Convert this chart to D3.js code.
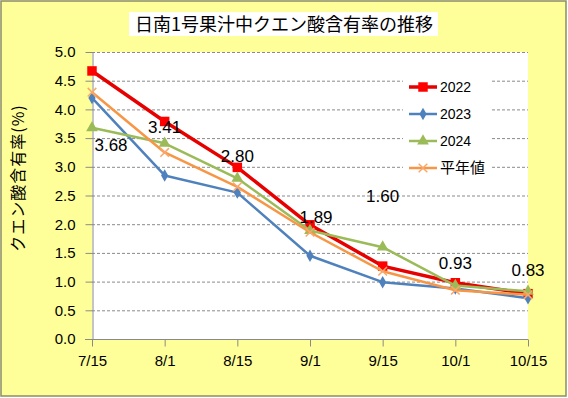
<!DOCTYPE html>
<html>
<head>
<meta charset="utf-8">
<script src="https://cdn.jsdelivr.net/npm/d3@7"></script>
<style>
  html, body { margin: 0; padding: 0; background: #fff; }
  svg { display: block; }
</style>
</head>
<body>
<svg id="chart" width="568" height="398"></svg>
<script>
// data
var dates = ["7/15", "8/1", "8/15", "9/1", "9/15", "10/1", "10/15"];
var yTicks = [0, 0.5, 1, 1.5, 2, 2.5, 3, 3.5, 4, 4.5, 5];
var seriesNames = ["2022", "2023", "2024", "平年値"];
var v2022 = [4.67, 3.79, 2.99, 1.99, 1.27, 0.98, 0.79];
var v2023 = [4.20, 2.85, 2.55, 1.45, 0.99, 0.88, 0.71];
var v2024 = [3.68, 3.41, 2.80, 1.89, 1.60, 0.93, 0.83];
var vNormal = [4.30, 3.25, 2.65, 1.86, 1.18, 0.85, 0.77];

var svg = d3.select("#chart");
var W = 568, H = 398;
// plot area edges (note: "top" is a reserved window global, so use pl/pr/pt/pb)
var pl = 92, pr = 528, pt = 52, pb = 339;
var numFont = "'Liberation Sans', Arial, sans-serif";
var jpFont = "'Noto Sans CJK JP', sans-serif";

// background + border
svg.append("rect").attr("x", 1).attr("y", 1).attr("width", W - 3).attr("height", H - 3)
    .attr("fill", "#ffff99").attr("stroke", "#8c8c64").attr("stroke-width", 1.5);

var x = d3.scalePoint().domain(dates).range([pl, pr]).padding(0);
var y = d3.scaleLinear().domain([0, 5]).range([pb, pt]);

// plot area
svg.append("rect").attr("x", pl).attr("y", pt)
    .attr("width", pr - pl).attr("height", pb - pt).attr("fill", "#fff");

// gridlines
svg.append("g").selectAll("line")
    .data(yTicks.filter(function (d) { return d > 0; }))
    .join("line")
    .attr("x1", pl).attr("x2", pr)
    .attr("y1", function (d) { return y(d) + 0.5; })
    .attr("y2", function (d) { return y(d) + 0.5; })
    .attr("stroke", "#8a8a8a").attr("stroke-width", 1)
    .attr("stroke-dasharray", "3,2");

// y axis
var yAxis = svg.append("g").attr("transform", "translate(" + (pl + 0.5) + ",0)")
    .call(d3.axisLeft(y).tickValues(yTicks).tickFormat(d3.format(".1f"))
        .tickSize(7).tickSizeOuter(0).tickPadding(10));
// x axis
var xAxis = svg.append("g").attr("transform", "translate(0," + (pb + 0.5) + ")")
    .call(d3.axisBottom(x).tickSize(7).tickSizeOuter(0).tickPadding(9));
[yAxis, xAxis].forEach(function (ax) {
    ax.select(".domain").attr("stroke", "#8a8a8a");
    ax.selectAll(".tick line").attr("stroke", "#8a8a8a");
    ax.selectAll("text").attr("font-family", numFont).attr("font-size", 15).attr("fill", "#000");
});
xAxis.select(".domain").attr("d", "M" + (pl - 7) + ",0H" + pr);

// series
var series = [
    { name: seriesNames[0], values: v2022, color: "#e60000", mcolor: "#ff0000", width: 3.5, sym: d3.symbolSquare, size: 90, stroke: false },
    { name: seriesNames[1], values: v2023, color: "#4f81bd", mcolor: "#4f81bd", width: 2.5, sym: d3.symbolDiamond, size: 45, stroke: false },
    { name: seriesNames[2], values: v2024, color: "#9bbb59", mcolor: "#9bbb59", width: 2.5, sym: d3.symbolTriangle, size: 60, stroke: false },
    { name: seriesNames[3], values: vNormal, color: "#f79646", mcolor: "#f8a86a", width: 2.5, sym: d3.symbolTimes, size: 50, stroke: true }
];

var line = d3.line()
    .x(function (d, i) { return x(dates[i]); })
    .y(function (d) { return y(d); });

function drawMarker(g, s, cx, cy) {
    var p = g.append("path")
        .attr("d", d3.symbol().type(s.sym).size(s.size)())
        .attr("transform", "translate(" + cx + "," + cy + ")");
    if (s.stroke) p.attr("fill", "none").attr("stroke", s.mcolor).attr("stroke-width", 1.5);
    else p.attr("fill", s.mcolor);
}

series.forEach(function (s) {
    var g = svg.append("g");
    g.append("path").datum(s.values).attr("d", line)
        .attr("fill", "none").attr("stroke", s.color)
        .attr("stroke-width", s.width).attr("stroke-linejoin", "round");
    s.values.forEach(function (v, i) { drawMarker(g, s, x(dates[i]), y(v)); });
});

// data labels on 2024 series
var labelShift = [[19, 23], [0, -10], [0, -16], [6, -8], [0, -45], [0, -17], [0, -15]];
svg.append("g").selectAll("text")
    .data(v2024)
    .join("text")
    .attr("x", function (d, i) { return x(dates[i]) + labelShift[i][0]; })
    .attr("y", function (d, i) { return y(d) + labelShift[i][1]; })
    .attr("text-anchor", "middle")
    .attr("font-family", numFont).attr("font-size", 17).attr("fill", "#000")
    .text(function (d) { return d3.format(".2f")(d); });

// legend
var lg = svg.append("g");
lg.append("rect").attr("x", 403).attr("y", 72).attr("width", 89).attr("height", 110).attr("fill", "#fff");
series.forEach(function (s, i) {
    var ly = 87 + i * 27;
    lg.append("line").attr("x1", 409).attr("x2", 437).attr("y1", ly).attr("y2", ly)
        .attr("stroke", s.color).attr("stroke-width", s.width);
    drawMarker(lg, s, 423, ly);
    lg.append("text").attr("x", 440).attr("y", ly + 5)
        .attr("font-family", numFont + ", " + jpFont)
        .attr("font-size", i === 3 ? 15 : 14).attr("fill", "#000")
        .text(s.name);
});

// title
svg.append("rect").attr("x", 129).attr("y", 12).attr("width", 309).attr("height", 24).attr("fill", "#fff");
svg.append("text").attr("x", 284).attr("y", 31).attr("text-anchor", "middle")
    .attr("font-family", jpFont).attr("font-size", 18).attr("fill", "#000")
    .text("日南1号果汁中クエン酸含有率の推移");

// y axis title
svg.append("text")
    .attr("transform", "translate(24,178) rotate(-90)")
    .attr("text-anchor", "middle")
    .attr("font-family", jpFont).attr("font-size", 16).attr("letter-spacing", 1)
    .attr("fill", "#000")
    .text("クエン酸含有率(%)");
</script>
</body>
</html>
